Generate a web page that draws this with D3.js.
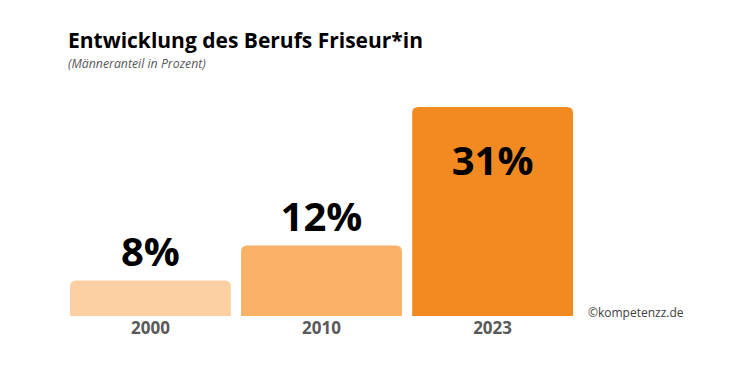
<!DOCTYPE html>
<html>
<head>
<meta charset="utf-8">
<script src="https://cdn.jsdelivr.net/npm/d3@7"></script>
<style>
body { margin: 0; background: #fff; }
text { font-family: "Open Sans", "Noto Sans", sans-serif; }
</style>
</head>
<body>
<div id="chart"></div>
<script>
var years = ["2000", "2010", "2023"];
var shares = [8, 12, 31];
var colours = ["#fcd0a2", "#f9b166", "#f28a22"];

var width = 750, height = 375;
var baseY = 316;
var radius = 6;

var svg = d3.select("#chart").append("svg")
	.attr("width", width)
	.attr("height", height);

var x = d3.scaleBand()
	.domain(years)
	.range([70, 573])
	.paddingInner(0.06)
	.paddingOuter(0);

// the original bars are not proportional, a power scale gets them close
var y = d3.scalePow()
	.exponent(0.75)
	.domain([4.4, 31])
	.range([baseY, 107]);

function topRounded(x0, y0, w, h, r){
	return "M" + x0 + "," + (y0 + h)
		+ "V" + (y0 + r)
		+ "Q" + x0 + "," + y0 + " " + (x0 + r) + "," + y0
		+ "H" + (x0 + w - r)
		+ "Q" + (x0 + w) + "," + y0 + " " + (x0 + w) + "," + (y0 + r)
		+ "V" + (y0 + h) + "Z";
}

// title
svg.append("text")
	.attr("x", 68).attr("y", 48)
	.attr("font-size", 21)
	.attr("font-weight", "bold")
	.attr("fill", "#000")
	.text("Entwicklung des Berufs Friseur*in");

svg.append("text")
	.attr("x", 68).attr("y", 68)
	.attr("font-size", 12.3)
	.attr("font-style", "italic")
	.attr("fill", "#595959")
	.text("(Männeranteil in Prozent)");

// bars
svg.append("g")
	.selectAll("path")
	.data(shares)
	.enter()
	.append("path")
	.attr("d", function(d, i){
		var top = y(d);
		return topRounded(x(years[i]), top, x.bandwidth(), baseY - top, radius);
	})
	.attr("fill", function(d, i){ return colours[i]; });

// value labels, last one sits inside the bar
svg.append("g")
	.selectAll("text")
	.data(shares)
	.enter()
	.append("text")
	.attr("text-anchor", "middle")
	.attr("x", function(d, i){ return x(years[i]) + x.bandwidth() / 2; })
	.attr("y", function(d, i){ return i == shares.length - 1 ? y(d) + 68 : y(d) - 14; })
	.attr("font-size", 40)
	.attr("font-weight", "bold")
	.attr("fill", "#000")
	.text(function(d){ return d + "%"; });

// year axis
var axis = svg.append("g")
	.attr("transform", "translate(0," + baseY + ")")
	.call(d3.axisBottom(x).tickSize(0).tickPadding(6));
axis.select(".domain").remove();
axis.selectAll("text")
	.attr("font-size", 17)
	.attr("font-weight", "bold")
	.attr("fill", "#595959")
	.style("font-family", "'Open Sans', sans-serif");

svg.append("text")
	.attr("x", 588).attr("y", 317)
	.attr("font-size", 12)
	.attr("fill", "#404040")
	.text("©kompetenzz.de");
</script>
</body>
</html>
